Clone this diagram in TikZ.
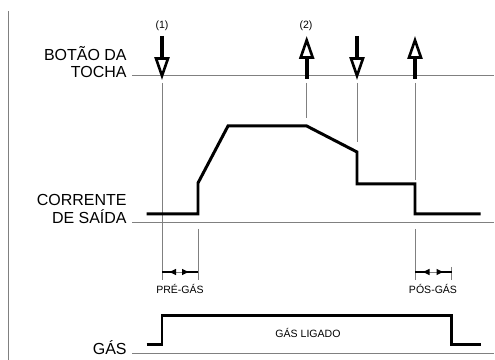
\documentclass[tikz,border=0pt]{standalone}
\usepackage{fontspec}
\setmainfont{Liberation Sans}
\usetikzlibrary{arrows.meta}

\begin{document}
\begin{tikzpicture}[x=2mm, y=2mm,
  wave/.style={line width=1.7pt, line join=miter},
  thin line/.style={gray, line width=0.55pt},
  btn/.style={line width=2.1pt, -{Triangle[open, line width=1.5pt, length=13pt, width=8.5pt]}},
  dim/.style={line width=1pt, -{Latex[reversed, length=4.6pt, width=3.8pt]}},
  lbl/.style={anchor=east, align=right, inner sep=0pt, font=\fontsize{9.1}{10.1}\selectfont},
  small/.style={inner sep=0pt, font=\fontsize{6}{7}\selectfont}]
\useasboundingbox (0,0) rectangle (49.5,36);
% frame line on the left
\draw[thin line] (0.8,34.9) -- (0.8,0);
% base lines
\draw[thin line] (13.2,28.5) -- (49.4,28.5);
\draw[thin line] (13.2,13.8) -- (49.4,13.8);
\draw[thin line] (13.2,0.7) -- (49.4,0.7);
% labels
\node[lbl] (botao) at (12.7,29.8) {BOTÃO DA\\TOCHA};
\node[lbl] (corrente) at (12.7,15.1) {CORRENTE\\DE SAÍDA};
\node[lbl] (gas) at (12.7,1.25) {GÁS};
% time lines
\draw[thin line] (16.2,27.7) -- (16.2,8.0);
\draw[thin line] (30.67,27.7) -- (30.67,24.2);
\draw[thin line] (35.7,27.7) -- (35.7,21.8);
\draw[thin line] (41.5,27.7) -- (41.5,18.0);
\draw[thin line] (41.5,13.1) -- (41.5,8.0);
\draw[thin line] (19.8,13.1) -- (19.8,8.0);
\draw[thin line] (45.17,9.3) -- (45.17,8.0);
% torch button
\draw[btn] (16.2,32.4) -- (16.2,28.0);
\draw[btn] (30.67,28.1) -- (30.67,32.4);
\draw[btn] (35.7,32.4) -- (35.7,28.0);
\draw[btn] (41.5,28.1) -- (41.5,32.4);
\node[small] (n1) at (16.2,33.4) {(1)};
\node[small] (n2) at (30.6,33.4) {(2)};
% output current
\draw[wave] (14.67,14.6) -- (19.8,14.6) -- (19.8,17.7) -- (22.8,23.4) -- (30.67,23.4)
  -- (35.7,20.8) -- (35.7,17.6) -- (41.5,17.6) -- (41.5,14.6) -- (48.07,14.6);
% gas
\draw[wave] (14.67,1.5) -- (16.2,1.5) -- (16.2,4.4) -- (45.17,4.4) -- (45.17,1.5) -- (48.07,1.5);
\node[small] (ligado) at (30.8,2.75) {GÁS LIGADO};
% pre and post gas
\draw[thin line] (16.2,8.8) -- (19.8,8.8);
\draw[dim] (16.2,8.8) -- (17.6,8.8);
\draw[dim] (19.8,8.8) -- (18.2,8.8);
\node[small] (pre) at (18.0,7.1) {PRÉ-GÁS};
\draw[thin line] (41.5,8.8) -- (45.17,8.8);
\draw[dim] (41.5,8.8) -- (42.95,8.8);
\draw[dim] (45.17,8.8) -- (43.65,8.8);
\node[small] (pos) at (43.3,7.1) {PÓS-GÁS};
\end{tikzpicture}
\end{document}
